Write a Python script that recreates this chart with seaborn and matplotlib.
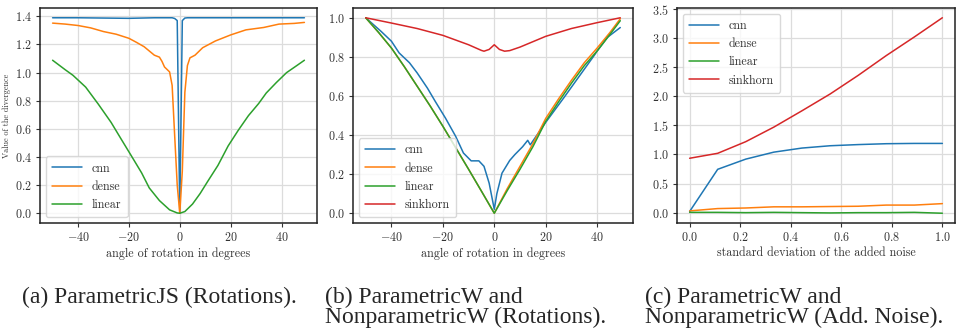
import pandas as pd
import matplotlib
matplotlib.use("Agg")
import matplotlib.pyplot as plt
import seaborn as sns

# (a) ParametricJS, rotations
js_cnn_x = [-50, -40, -30, -20, -10, -3, -2, -1, 0, 1, 2, 3, 10, 20, 30, 40, 49]
js_cnn_y = [1.39, 1.39, 1.388, 1.386, 1.39, 1.39, 1.385, 1.37, 0.0, 1.37, 1.388, 1.39, 1.39, 1.39, 1.39, 1.39, 1.39]
js_dense_x = [-50, -45, -40, -35, -30, -25, -20, -17, -14, -10, -8, -7, -6, -4, -3, -2, -1, 0,
              1, 2, 3, 4, 6, 9, 14, 20, 26, 33, 39, 45, 49]
js_dense_y = [1.352, 1.345, 1.335, 1.318, 1.292, 1.273, 1.244, 1.215, 1.184, 1.124, 1.11, 1.08, 1.04, 1.005, 0.909, 0.55, 0.2, 0.0,
              0.3, 0.86, 1.05, 1.105, 1.124, 1.177, 1.225, 1.268, 1.304, 1.321, 1.345, 1.35, 1.357]
js_linear_x = [-50, -45, -42, -37, -32, -27, -23, -19, -15, -12, -8, -4, -1, 0,
               2, 5, 8, 11, 15, 19, 23, 27, 31, 34, 38, 42, 46, 49]
js_linear_y = [1.088, 1.02, 0.981, 0.897, 0.775, 0.646, 0.526, 0.407, 0.287, 0.18, 0.09, 0.024, 0.002, 0.0,
               0.012, 0.065, 0.14, 0.227, 0.34, 0.478, 0.59, 0.694, 0.78, 0.855, 0.93, 1.0, 1.05, 1.088]

# (b) ParametricW and NonparametricW, rotations
w_x = [-50, -45, -40, -35, -30, -25, -20, -15, -10, -5, 0, 5, 10, 15, 20, 25, 30, 35, 40, 45, 49]
w_linear_y = [1.0, 0.925, 0.845, 0.75, 0.65, 0.55, 0.445, 0.335, 0.225, 0.113, 0.0,
              0.115, 0.225, 0.34, 0.47, 0.57, 0.665, 0.755, 0.83, 0.915, 0.985]
w_dense_y = [1.0, 0.925, 0.845, 0.75, 0.65, 0.55, 0.445, 0.335, 0.225, 0.113, 0.0,
             0.125, 0.24, 0.355, 0.485, 0.585, 0.68, 0.77, 0.845, 0.925, 0.995]
w_cnn_x = [-50, -44, -40, -37, -33, -30, -26, -23, -19, -15, -12, -9, -6, -4, -2, 0,
           1, 3, 6, 8, 11, 13, 14, 20, 27, 33, 39, 40, 44, 49]
w_cnn_y = [1.0, 0.93, 0.88, 0.82, 0.77, 0.718, 0.64, 0.573, 0.487, 0.393, 0.308, 0.268, 0.268, 0.24, 0.154, 0.02,
           0.1, 0.205, 0.27, 0.30, 0.34, 0.373, 0.35, 0.465, 0.59, 0.70, 0.81, 0.83, 0.90, 0.95]
w_sink_x = [-50, -40, -30, -20, -10, -5, -4, -2, 0, 2, 4, 6, 10, 20, 30, 40, 49]
w_sink_y = [1.0, 0.973, 0.945, 0.91, 0.862, 0.833, 0.829, 0.838, 0.862, 0.838, 0.829, 0.832, 0.85, 0.905, 0.945, 0.975, 1.0]

# (c) ParametricW and NonparametricW, added noise
noise_x = [0.0, 0.111, 0.222, 0.333, 0.444, 0.556, 0.667, 0.778, 0.889, 1.0]
noise_cnn = [0.02, 0.745, 0.92, 1.04, 1.11, 1.15, 1.17, 1.185, 1.19, 1.19]
noise_dense = [0.03, 0.07, 0.08, 0.10, 0.10, 0.105, 0.11, 0.13, 0.13, 0.155]
noise_linear = [0.005, 0.005, 0.0, 0.005, 0.0, -0.005, 0.0, 0.0, 0.005, -0.01]
noise_sink = [0.935, 1.02, 1.22, 1.47, 1.75, 2.04, 2.36, 2.70, 3.02, 3.35]

colors = {"cnn": "#1f77b4", "dense": "#ff7f0e", "linear": "#2ca02c", "sinkhorn": "#d62728"}


def long_df(parts):
    frames = [pd.DataFrame({"x": xs, "y": ys, "model": name}) for name, xs, ys in parts]
    return pd.concat(frames, ignore_index=True)


df_js = long_df([("cnn", js_cnn_x, js_cnn_y), ("dense", js_dense_x, js_dense_y),
                 ("linear", js_linear_x, js_linear_y)])
df_w = long_df([("cnn", w_cnn_x, w_cnn_y), ("dense", w_x, w_dense_y),
                ("linear", w_x, w_linear_y), ("sinkhorn", w_sink_x, w_sink_y)])
df_noise = long_df([("cnn", noise_x, noise_cnn), ("dense", noise_x, noise_dense),
                    ("linear", noise_x, noise_linear), ("sinkhorn", noise_x, noise_sink)])

sns.set_style("ticks", {"axes.grid": True, "grid.color": "#dcdcdc", "axes.edgecolor": "#222222"})
plt.rcParams["font.family"] = ["cmr10", "DejaVu Serif"]
plt.rcParams["mathtext.fontset"] = "cm"
plt.rcParams["axes.formatter.use_mathtext"] = True
plt.rcParams["axes.unicode_minus"] = True

fs = 8.7
fig = plt.figure(figsize=(9.56, 3.28), dpi=100)
ax1 = fig.add_axes([40 / 956, 105 / 328, 277 / 956, 215 / 328])
ax2 = fig.add_axes([353 / 956, 105 / 328, 280 / 956, 215 / 328])
ax3 = fig.add_axes([677 / 956, 105 / 328, 278 / 956, 215 / 328])

for ax, df, loc, xlabel in [(ax1, df_js, "lower left", "angle of rotation in degrees"),
                            (ax2, df_w, "lower left", "angle of rotation in degrees"),
                            (ax3, df_noise, "upper left", "standard deviation of the added noise")]:
    sns.lineplot(data=df, x="x", y="y", hue="model", palette=colors, estimator=None,
                 linewidth=1.1, ax=ax)
    ax.set_xlabel(xlabel, fontsize=fs, color="#333333", labelpad=2)
    ax.set_ylabel("")
    ax.tick_params(labelsize=fs, colors="#333333", length=3, width=0.8, pad=3)
    ax.grid(True, color="#dcdcdc", linewidth=0.9)
    for s in ax.spines.values():
        s.set_linewidth(1.1)
        s.set_color("#222222")
    leg = ax.legend(loc=loc, fontsize=fs, handlelength=2.5, frameon=True, borderpad=0.5)
    leg.get_frame().set_edgecolor("#d0d0d0")
    for t in leg.get_texts():
        t.set_color("#333333")

ax1.set_ylabel("Value of the divergence", fontsize=5.9, color="#333333")
ax1.yaxis.set_label_coords(-0.103, 0.5)

cap = dict(fontsize=17, family=["Liberation Serif", "DejaVu Serif"], va="baseline", ha="left")
fig.text(21.7 / 956, 1 - 303 / 328, "(a) ParametricJS (Rotations).", **cap)
fig.text(325 / 956, 1 - 303 / 328, "(b) ParametricW and", **cap)
fig.text(325 / 956, 1 - 323 / 328, "NonparametricW (Rotations).", **cap)
fig.text(645 / 956, 1 - 303 / 328, "(c) ParametricW and", **cap)
fig.text(645 / 956, 1 - 323 / 328, "NonparametricW (Add. Noise).", **cap)

fig.savefig("out.png", dpi=100)
